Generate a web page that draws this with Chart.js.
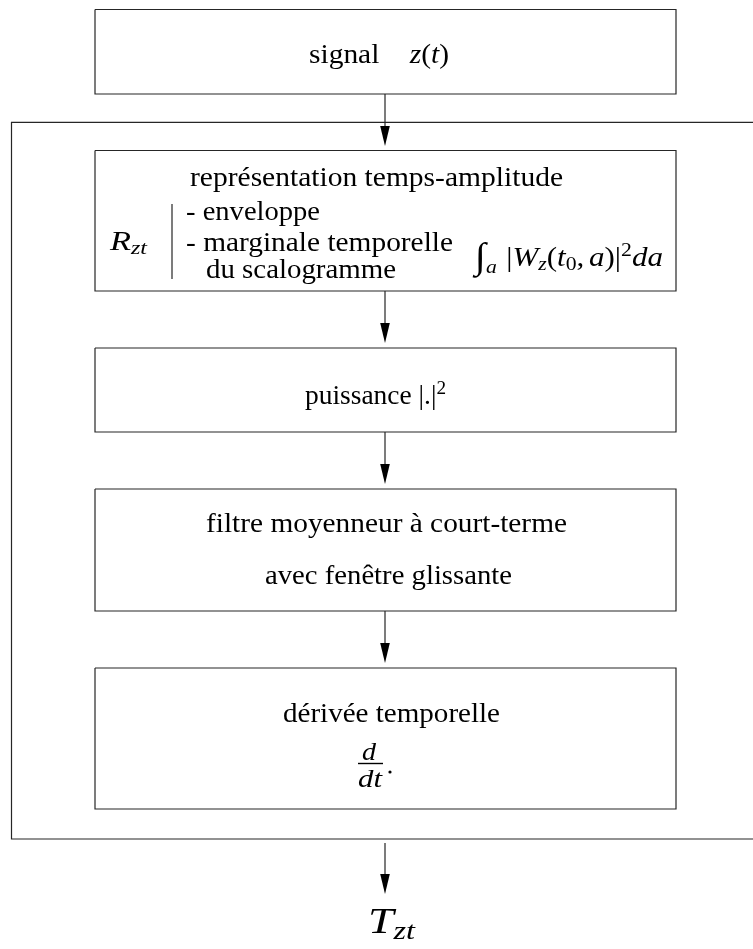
<!DOCTYPE html>
<html><head><meta charset="utf-8">
<script src="https://cdn.jsdelivr.net/npm/chart.js@4.4.1/dist/chart.umd.min.js"></script>
<style>html,body{margin:0;padding:0;background:#fff;overflow:hidden}canvas{display:block}</style>
</head><body>
<canvas id="c" width="753" height="949"></canvas>
<script>
// ---- content (text) ----
const stageLabels = ['signal', 'représentation temps-amplitude', 'puissance', 'filtre moyenneur à court-terme', 'avec fenêtre glissante', 'dérivée temporelle'];
const envelopeItems = ['- enveloppe', '- marginale temporelle', 'du scalogramme'];
const outputLabel = ['T', 'zt'];
const inputLabel = ['z', '(', 't', ')'];
const reprLabel = ['R', 'zt'];

// ---- layout (data coordinates of the diagram) ----
const boxLeft = 95, boxRight = 676;
const boxTops = [9.5, 150.5, 348, 489, 668];
const boxBottoms = [94, 291, 432, 611, 809];
const frameLeft = 11.5, frameTop = 122.3, frameBottom = 839, frameRight = 770;
const arrowX = 385;
const arrowStarts = [94, 291, 432, 611, 843];
const arrowEnds = [146, 343, 484, 663, 894];

const INK = '#262626';
const datasets = [];
function poly(pts, w, color) {
  datasets.push({data: pts.map(p => ({x: p[0], y: p[1]})), showLine: true, borderColor: color || INK,
    borderWidth: w || 1.2, pointRadius: 0, tension: 0, fill: false, clip: false});
}
boxTops.forEach((t, i) => {
  const b = boxBottoms[i];
  poly([[boxLeft, t], [boxRight, t], [boxRight, b], [boxLeft, b], [boxLeft, t]]);
});
poly([[frameRight, frameTop], [frameLeft, frameTop], [frameLeft, frameBottom], [frameRight, frameBottom]]);
arrowStarts.forEach((s, i) => poly([[arrowX, s], [arrowX, arrowEnds[i] - 10]]));
poly([[172, 204], [172, 279]]);           // separator in box 2
poly([[358, 763.5], [383, 763.5]], 1.4, '#000'); // fraction bar
datasets.push({data: [{x: 390, y: 772}], pointRadius: 1.6, pointBackgroundColor: '#000', pointBorderWidth: 0, showLine: false});

// rich text items: runs {t, it (italic), s (scale), dy, gap(em)}
const S = 28;
const texts = [
  {x0: 309, x1: 449, y: 62.5, size: S, runs: [{t: stageLabels[0]}, {gap: 1.03}, {t: inputLabel[0], it: 1}, {t: inputLabel[1]}, {t: inputLabel[2], it: 1}, {t: inputLabel[3]}]},
  {x0: 190, x1: 563, y: 185.5, size: S, runs: [{t: stageLabels[1]}]},
  {x0: 110, x1: 147, y: 250, size: S, runs: [{t: reprLabel[0], it: 1}, {t: reprLabel[1], it: 1, s: 0.7, dy: 4}]},
  {x0: 186, x1: 320, y: 220, size: S, runs: [{t: envelopeItems[0]}]},
  {x0: 186, x1: 453, y: 251, size: S, runs: [{t: envelopeItems[1]}]},
  {x0: 206, x1: 396, y: 278, size: S, runs: [{t: envelopeItems[2]}]},
  {x0: 475, x1: 663, y: 266, size: S, runs: [
    {t: '\u222B', s: 1.3, dy: 2}, {t: 'a', it: 1, s: 0.7, dy: 7}, {gap: 0.3}, {t: '|'}, {t: 'W', it: 1}, {t: 'z', it: 1, s: 0.7, dy: 4},
    {t: '('}, {t: 't', it: 1}, {t: '0', s: 0.7, dy: 4}, {t: ','}, {gap: 0.15}, {t: 'a', it: 1}, {t: ')'}, {t: '|'},
    {t: '2', s: 0.7, dy: -10}, {t: 'd', it: 1}, {t: 'a', it: 1}]},
  {x0: 305, x1: 446, y: 404, size: S, runs: [{t: stageLabels[2] + ' '}, {t: '|.|'}, {t: '2', s: 0.7, dy: -10}]},
  {x0: 206, x1: 567, y: 532, size: S, runs: [{t: stageLabels[3]}]},
  {x0: 265, x1: 512, y: 584, size: S, runs: [{t: stageLabels[4]}]},
  {x0: 283, x1: 500, y: 722, size: S, runs: [{t: stageLabels[5]}]},
  {x0: 362, x1: 376, y: 759.5, size: 26, runs: [{t: 'd', it: 1}]},
  {x0: 358, x1: 382, y: 787, size: 26, runs: [{t: 'dt', it: 1}]},
  {x0: 368, x1: 415, y: 933, size: 36, runs: [{t: outputLabel[0], it: 1}, {t: outputLabel[1], it: 1, s: 0.7, dy: 6}]}
];

function fontFor(r, size) {
  return (r.it ? 'italic ' : '') + (size * (r.s || 1)).toFixed(2) + 'px "Liberation Serif", "DejaVu Serif", serif';
}

const diagramPlugin = {
  id: 'diagram',
  afterDatasetsDraw(chart) {
    const ctx = chart.ctx, xs = chart.scales.x, ys = chart.scales.y;
    ctx.save();
    // arrowheads
    ctx.fillStyle = '#000';
    arrowEnds.forEach(e => {
      const tipX = xs.getPixelForValue(arrowX), tipY = ys.getPixelForValue(e);
      const baseY = ys.getPixelForValue(e - 20);
      const hw = xs.getPixelForValue(arrowX + 4.8) - tipX;
      ctx.beginPath();
      ctx.moveTo(tipX, tipY); ctx.lineTo(tipX - hw, baseY); ctx.lineTo(tipX + hw, baseY); ctx.closePath(); ctx.fill();
    });
    // texts
    ctx.fillStyle = '#000';
    ctx.textBaseline = 'alphabetic';
    ctx.textAlign = 'left';
    texts.forEach(item => {
      const widths = item.runs.map(r => {
        if (r.gap != null) return r.gap * item.size;
        ctx.font = fontFor(r, item.size);
        return ctx.measureText(r.t).width;
      });
      const total = widths.reduce((a, b) => a + b, 0);
      const px0 = xs.getPixelForValue(item.x0), px1 = xs.getPixelForValue(item.x1);
      const py = ys.getPixelForValue(item.y);
      const sx = (px1 - px0) / total;
      ctx.save();
      ctx.translate(px0, py);
      ctx.scale(sx, 1);
      let cx = 0;
      item.runs.forEach((r, i) => {
        if (r.gap == null) {
          ctx.font = fontFor(r, item.size);
          ctx.fillText(r.t, cx, r.dy || 0);
        }
        cx += widths[i];
      });
      ctx.restore();
    });
    ctx.restore();
  }
};

new Chart(document.getElementById('c').getContext('2d'), {
  type: 'scatter',
  data: {datasets},
  options: {
    responsive: false, animation: false, events: [],
    layout: {padding: 0, autoPadding: false},
    plugins: {legend: {display: false}, tooltip: {enabled: false}, title: {display: false}},
    scales: {
      x: {type: 'linear', min: 0, max: 753, display: false},
      y: {type: 'linear', min: 0, max: 949, reverse: true, display: false}
    }
  },
  plugins: [diagramPlugin]
});
</script>
</body></html>
